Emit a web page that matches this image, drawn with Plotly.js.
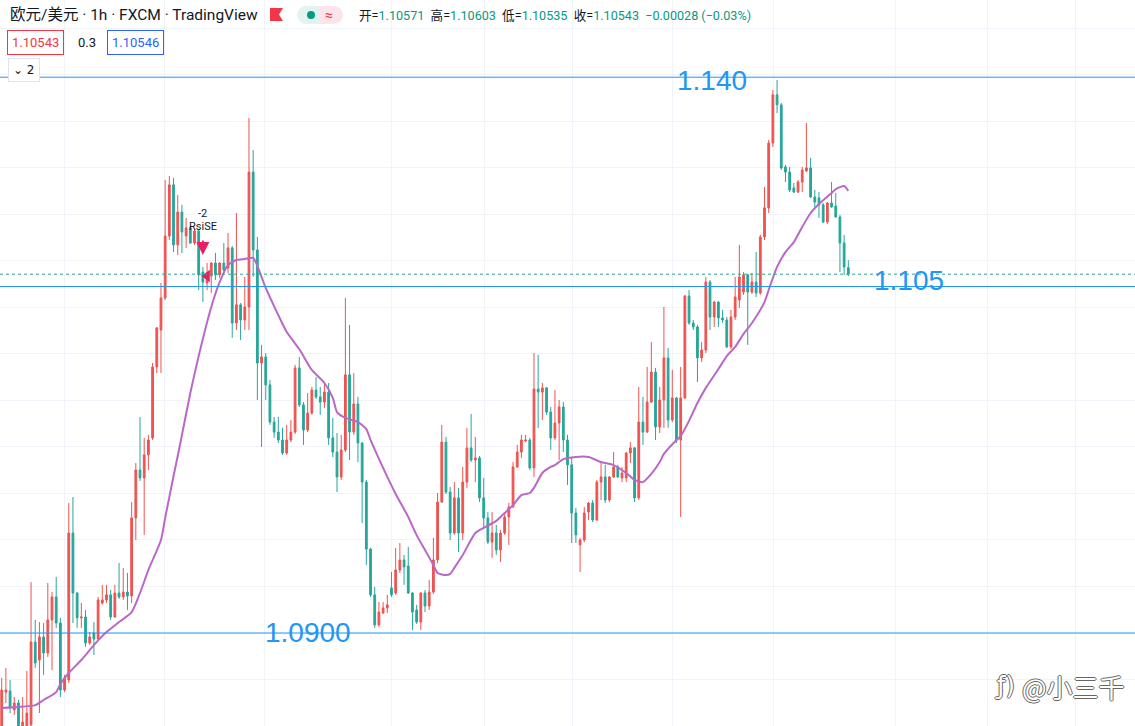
<!DOCTYPE html>
<html><head><meta charset="utf-8">
<script src="https://cdn.plot.ly/plotly-3.0.1.min.js"></script>
<style>html,body{margin:0;padding:0;background:#fff;overflow:hidden}#chart{width:1135px;height:726px}</style>
</head><body><div id="chart"></div>
<script>
// EUR/USD 1h candles (oldest -> newest), prices
const openP=[1.08549,1.08746,1.08751,1.08669,1.08699,1.08574,1.08592,1.08605,1.08961,1.08884,1.08983,1.08914,1.09056,1.09155,1.09043,1.08755,1.08798,1.09430,1.09172,1.09065,1.09069,1.08957,1.09000,1.08974,1.09129,1.09142,1.09164,1.09069,1.09172,1.09155,1.09176,1.09159,1.09495,1.09701,1.09667,1.09766,1.09839,1.10144,1.10303,1.10441,1.10707,1.10927,1.10669,1.10810,1.10707,1.10742,1.10677,1.10729,1.10552,1.10505,1.10535,1.10591,1.10540,1.10591,1.10570,1.10656,1.10333,1.10411,1.10346,1.10402,1.10982,1.10647,1.10161,1.10187,1.10067,1.09907,1.09864,1.09830,1.09774,1.09830,1.09864,1.10140,1.09981,1.09873,1.09946,1.10045,1.10015,1.09993,1.10036,1.09839,1.09778,1.09671,1.09787,1.10110,1.09864,1.09985,1.09817,1.09649,1.09361,1.09164,1.09035,1.09086,1.09108,1.09194,1.09172,1.09271,1.09314,1.09288,1.09172,1.09099,1.09047,1.09172,1.09116,1.09176,1.09314,1.09563,1.09821,1.09606,1.09430,1.09581,1.09430,1.09649,1.09796,1.09744,1.09753,1.09581,1.09495,1.09391,1.09430,1.09357,1.09430,1.09499,1.09542,1.09714,1.09778,1.09826,1.09830,1.09710,1.10049,1.10036,1.10054,1.09950,1.09839,1.09903,1.09972,1.09830,1.09723,1.09516,1.09379,1.09400,1.09520,1.09559,1.09486,1.09649,1.09671,1.09572,1.09671,1.09714,1.09667,1.09667,1.09774,1.09796,1.09581,1.09907,1.09864,1.09993,1.10122,1.09886,1.10002,1.10183,1.09916,1.10011,1.09830,1.10011,1.10449,1.10333,1.10316,1.10183,1.10217,1.10509,1.10359,1.10423,1.10355,1.10346,1.10230,1.10359,1.10432,1.10466,1.10540,1.10466,1.10509,1.10462,1.10703,1.10828,1.11107,1.11314,1.11271,1.11004,1.10982,1.10914,1.10896,1.10939,1.10987,1.11000,1.10875,1.10871,1.10841,1.10767,1.10849,1.10836,1.10789,1.10677,1.10571];
const highP=[1.08807,1.08850,1.08798,1.08725,1.08712,1.08725,1.08837,1.09219,1.09056,1.09047,1.09043,1.09215,1.09176,1.09241,1.09065,1.08820,1.09559,1.09585,1.09176,1.09129,1.09099,1.09004,1.09047,1.09155,1.09207,1.09207,1.09185,1.09207,1.09301,1.09280,1.09258,1.09563,1.09731,1.09929,1.09839,1.09852,1.10161,1.10316,1.10505,1.10948,1.10965,1.10957,1.10884,1.10841,1.10785,1.10750,1.10737,1.10737,1.10574,1.10591,1.10595,1.10634,1.10595,1.10677,1.10720,1.10664,1.10806,1.10419,1.10531,1.11215,1.11077,1.10703,1.10239,1.10204,1.10088,1.09929,1.09929,1.09882,1.09895,1.09916,1.10153,1.10187,1.09993,1.10032,1.10058,1.10101,1.10058,1.10075,1.10075,1.09925,1.09860,1.09852,1.10441,1.10325,1.10118,1.10015,1.09821,1.09658,1.09366,1.09198,1.09133,1.09133,1.09164,1.09262,1.09366,1.09387,1.09336,1.09370,1.09176,1.09121,1.09176,1.09185,1.09228,1.09409,1.09602,1.09895,1.09843,1.09628,1.09649,1.09624,1.09714,1.09882,1.09942,1.09843,1.09761,1.09667,1.09520,1.09520,1.09465,1.09443,1.09520,1.09559,1.09735,1.09809,1.09852,1.09852,1.09839,1.10204,1.10196,1.10075,1.10058,1.09972,1.10045,1.10002,1.09993,1.09852,1.09757,1.09538,1.09409,1.09542,1.09563,1.09572,1.09658,1.09735,1.09723,1.09675,1.09778,1.09723,1.09714,1.09778,1.09821,1.09800,1.10058,1.10015,1.10144,1.10251,1.10140,1.10058,1.10402,1.10226,1.10131,1.10015,1.10144,1.10454,1.10475,1.10346,1.10325,1.10251,1.10531,1.10518,1.10428,1.10428,1.10389,1.10359,1.10389,1.10531,1.10669,1.10552,1.10544,1.10548,1.10638,1.10712,1.10918,1.11120,1.11335,1.11378,1.11279,1.11013,1.11004,1.10935,1.10948,1.11004,1.11193,1.11043,1.10905,1.10896,1.10849,1.10853,1.10939,1.10892,1.10798,1.10712,1.10603];
const lowP=[1.08531,1.08699,1.08656,1.08648,1.08562,1.08549,1.08583,1.08592,1.08850,1.08656,1.08820,1.08897,1.08841,1.09022,1.08725,1.08746,1.08785,1.09043,1.09022,1.09022,1.08940,1.08949,1.08906,1.08966,1.09121,1.09129,1.09056,1.09065,1.09146,1.09142,1.09099,1.09129,1.09400,1.09654,1.09422,1.09701,1.09830,1.10118,1.10118,1.10432,1.10690,1.10638,1.10626,1.10634,1.10656,1.10673,1.10669,1.10475,1.10423,1.10475,1.10462,1.10518,1.10527,1.10548,1.10548,1.10269,1.10303,1.10260,1.10303,1.10303,1.10531,1.10002,1.09800,1.10002,1.09895,1.09839,1.09817,1.09766,1.09766,1.09821,1.09856,1.09972,1.09809,1.09864,1.09938,1.10006,1.09938,1.09968,1.09809,1.09757,1.09606,1.09658,1.09778,1.09744,1.09852,1.09735,1.09473,1.09293,1.09155,1.09022,1.09026,1.09082,1.09086,1.09155,1.09164,1.09258,1.09207,1.09168,1.09013,1.09039,1.09013,1.09090,1.09099,1.09168,1.09301,1.09559,1.09598,1.09400,1.09422,1.09348,1.09400,1.09624,1.09735,1.09649,1.09563,1.09456,1.09383,1.09323,1.09336,1.09305,1.09422,1.09379,1.09538,1.09710,1.09753,1.09821,1.09701,1.09671,1.09882,1.09916,1.09938,1.09787,1.09830,1.09744,1.09778,1.09637,1.09387,1.09387,1.09262,1.09391,1.09486,1.09477,1.09482,1.09572,1.09559,1.09563,1.09667,1.09667,1.09649,1.09649,1.09731,1.09563,1.09572,1.09809,1.09860,1.09989,1.09830,1.09860,1.09882,1.09882,1.09907,1.09817,1.09499,1.10006,1.10325,1.10303,1.10079,1.10165,1.10204,1.10303,1.10316,1.10316,1.10333,1.10226,1.10221,1.10346,1.10398,1.10454,1.10239,1.10458,1.10445,1.10454,1.10690,1.10806,1.11090,1.11236,1.10991,1.10939,1.10896,1.10892,1.10892,1.10896,1.10982,1.10871,1.10828,1.10785,1.10763,1.10759,1.10828,1.10785,1.10552,1.10540,1.10535];
const closeP=[1.08755,1.08755,1.08682,1.08699,1.08583,1.08617,1.08656,1.08961,1.08871,1.08983,1.08914,1.09056,1.09155,1.09043,1.08755,1.08807,1.09430,1.09172,1.09065,1.09069,1.08957,1.08983,1.08974,1.09142,1.09142,1.09164,1.09069,1.09172,1.09155,1.09176,1.09159,1.09495,1.09701,1.09667,1.09766,1.09830,1.10144,1.10312,1.10441,1.10707,1.10927,1.10669,1.10810,1.10724,1.10742,1.10677,1.10729,1.10540,1.10509,1.10548,1.10591,1.10540,1.10591,1.10561,1.10656,1.10333,1.10411,1.10346,1.10402,1.10982,1.10647,1.10161,1.10187,1.10067,1.09907,1.09864,1.09830,1.09774,1.09830,1.09864,1.10140,1.09981,1.09873,1.09946,1.10045,1.10015,1.09993,1.10036,1.09839,1.09778,1.09671,1.09787,1.10110,1.09864,1.09985,1.09817,1.09649,1.09361,1.09164,1.09035,1.09090,1.09108,1.09121,1.09164,1.09271,1.09314,1.09284,1.09172,1.09090,1.09047,1.09172,1.09116,1.09176,1.09314,1.09563,1.09821,1.09606,1.09430,1.09581,1.09430,1.09649,1.09796,1.09744,1.09753,1.09581,1.09495,1.09391,1.09430,1.09357,1.09430,1.09499,1.09542,1.09714,1.09778,1.09830,1.09830,1.09710,1.10049,1.10036,1.10054,1.09950,1.09839,1.09903,1.09972,1.09830,1.09723,1.09516,1.09422,1.09400,1.09516,1.09559,1.09486,1.09649,1.09671,1.09572,1.09671,1.09714,1.09671,1.09688,1.09774,1.09796,1.09581,1.09907,1.09864,1.09993,1.10122,1.09886,1.10002,1.10183,1.09916,1.10011,1.09830,1.10011,1.10449,1.10333,1.10316,1.10183,1.10217,1.10509,1.10359,1.10423,1.10355,1.10346,1.10230,1.10359,1.10445,1.10531,1.10540,1.10466,1.10509,1.10462,1.10703,1.10828,1.11107,1.11314,1.11271,1.11000,1.10982,1.10905,1.10896,1.10939,1.10991,1.11000,1.10875,1.10853,1.10841,1.10767,1.10849,1.10832,1.10789,1.10677,1.10574,1.10543];

// moving average (purple line) read at sample candles
const maIdx=[0,4,8,10,13,14,16,19,22,25,28,31,33,35,38,39,40,41,42,43,45,47,50,52,54,56,58,60,61,63,66,68,71,74,77,79,80,82,85,87,88,91,94,97,99,101,103,104,106,107,108,110,113,115,118,120,122,124,126,127,129,131,132,134,137,140,143,146,149,151,153,155,157,158,161,162,164,166,168,171,173,175,177,179,182,183,185,187,189,191,193,195,198,199,201,202];
const maVal=[1.08678,1.08682,1.08690,1.08712,1.08746,1.08781,1.08828,1.08884,1.08948,1.09004,1.09047,1.09090,1.09172,1.09271,1.09400,1.09495,1.09585,1.09675,1.09761,1.09851,1.10032,1.10191,1.10402,1.10509,1.10582,1.10604,1.10608,1.10613,1.10578,1.10484,1.10367,1.10294,1.10221,1.10131,1.10075,1.10011,1.09950,1.09925,1.09907,1.09877,1.09830,1.09710,1.09598,1.09499,1.09421,1.09357,1.09292,1.09258,1.09249,1.09254,1.09280,1.09335,1.09430,1.09452,1.09482,1.09516,1.09550,1.09593,1.09602,1.09624,1.09688,1.09714,1.09722,1.09748,1.09757,1.09757,1.09735,1.09722,1.09688,1.09658,1.09649,1.09684,1.09735,1.09770,1.09830,1.09847,1.09912,1.09989,1.10054,1.10135,1.10191,1.10230,1.10286,1.10333,1.10423,1.10475,1.10574,1.10638,1.10681,1.10746,1.10806,1.10845,1.10892,1.10909,1.10922,1.10901];

// hand-drawn levels and their labels
const levelPrice=[1.1139,1.1049,1.0900];
const levelText=['1.140','1.105','1.0900'];
// strategy signal
const signalIdx=[48];
const signalPrice=[1.10625];
const signalText=['-2','RsiSE'];
const exitIdx=[49];
const exitPrice=[1.10535];
// quote box
const bidP=1.10543, askP=1.10546, spread='0.3';

const W=1135,H=726;
const N=closeP.length;
const idx=closeP.map((_,i)=>i);
const px=x=>x/W, py=y=>1-y/H;
const UP='#ef5350', DN='#26a69a', BLUE='#2196f3';
const FONT="'Trebuchet MS', Roboto, 'Noto Sans CJK SC', sans-serif";

const traces=[
 {type:'candlestick',x:idx,open:openP,high:highP,low:lowP,close:closeP,
  increasing:{line:{color:UP,width:1},fillcolor:UP},
  decreasing:{line:{color:DN,width:1},fillcolor:DN},
  whiskerwidth:0,hoverinfo:'skip',showlegend:false},
 {type:'scatter',mode:'lines',x:maIdx,y:maVal,line:{color:'#ba68c8',width:2,shape:'spline',smoothing:0.6},hoverinfo:'skip',showlegend:false},
 {type:'scatter',mode:'markers',x:exitIdx,y:exitPrice,marker:{symbol:'triangle-left',size:11,color:'#e91e63'},hoverinfo:'skip',showlegend:false}
];

const shapes=levelPrice.map(p=>({type:'line',xref:'paper',x0:0,x1:1,yref:'y',y0:p,y1:p,line:{color:BLUE,width:1}}));
shapes.push({type:'line',xref:'paper',x0:0,x1:1,yref:'y',y0:closeP[N-1],y1:closeP[N-1],line:{color:DN,width:1,dash:'dot'}});
// red flag icon
const fl=[[270,8],[283,8],[279,14.5],[283,21],[270,21]];
shapes.push({type:'path',xref:'paper',yref:'paper',path:'M'+fl.map(p=>px(p[0])+','+py(p[1])).join(' L')+' Z',fillcolor:'#f23645',line:{width:0}});
// status pill
shapes.push({type:'circle',xref:'paper',yref:'paper',x0:px(297),x1:px(315),y0:py(24),y1:py(6),fillcolor:'#e3f3f1',line:{width:0}});
shapes.push({type:'rect',xref:'paper',yref:'paper',x0:px(306),x1:px(320),y0:py(24),y1:py(6),fillcolor:'#e3f3f1',line:{width:0}});
shapes.push({type:'rect',xref:'paper',yref:'paper',x0:px(320),x1:px(334),y0:py(24),y1:py(6),fillcolor:'#fde4ea',line:{width:0}});
shapes.push({type:'circle',xref:'paper',yref:'paper',x0:px(325),x1:px(343),y0:py(24),y1:py(6),fillcolor:'#fde4ea',line:{width:0}});
shapes.push({type:'circle',xref:'paper',yref:'paper',x0:px(307),x1:px(315),y0:py(19),y1:py(11),fillcolor:'#089981',line:{width:0}});

const last=N-1;
const chg=closeP[last]-openP[last];
const pct=chg/openP[last]*100;
const v=s=>'<span style="color:#089981">'+s+'</span>';
const ohlc='开='+v(openP[last].toFixed(5))+'  高='+v(highP[last].toFixed(5))+'  低='+v(lowP[last].toFixed(5))+'  收='+v(closeP[last].toFixed(5))+'  '+v(chg.toFixed(5).replace('-','−')+' ('+pct.toFixed(2).replace('-','−')+'%)');

const ann=[];
const labelPos=[[712,81],[909,280],[308,632]];
levelText.forEach((t,i)=>ann.push({xref:'paper',yref:'paper',x:px(labelPos[i][0]),y:py(labelPos[i][1]),text:t,showarrow:false,xanchor:'center',yanchor:'middle',font:{family:"'Liberation Sans', Arial, sans-serif",size:28,color:BLUE}}));
ann.push({xref:'paper',yref:'paper',x:px(8),y:py(15),text:'欧元/美元 · 1h · FXCM · TradingView',showarrow:false,xanchor:'left',yanchor:'middle',font:{family:FONT,size:15.5,color:'#131722'}});
ann.push({xref:'paper',yref:'paper',x:px(329),y:py(15),text:'≈',showarrow:false,xanchor:'center',yanchor:'middle',font:{family:FONT,size:14,color:'#f23645'}});
ann.push({xref:'paper',yref:'paper',x:px(357),y:py(15),text:ohlc,showarrow:false,xanchor:'left',yanchor:'middle',font:{family:FONT,size:12.6,color:'#131722'}});
ann.push({xref:'paper',yref:'paper',x:px(7),y:py(42),text:bidP.toFixed(5),showarrow:false,xanchor:'left',yanchor:'middle',bordercolor:'#f23645',borderwidth:1,borderpad:4,bgcolor:'#fff',font:{family:FONT,size:13,color:'#f23645'}});
ann.push({xref:'paper',yref:'paper',x:px(76),y:py(42),text:spread,showarrow:false,xanchor:'left',yanchor:'middle',font:{family:FONT,size:13,color:'#131722'}});
ann.push({xref:'paper',yref:'paper',x:px(107),y:py(42),text:askP.toFixed(5),showarrow:false,xanchor:'left',yanchor:'middle',bordercolor:'#2962ff',borderwidth:1,borderpad:4,bgcolor:'#fff',font:{family:FONT,size:13,color:'#2962ff'}});
ann.push({xref:'paper',yref:'paper',x:px(8),y:py(70.5),text:'⌄ 2',showarrow:false,xanchor:'left',yanchor:'middle',bordercolor:'#e0e3eb',borderwidth:1,borderpad:4,bgcolor:'#fff',font:{family:"'DejaVu Sans', sans-serif",size:12,color:'#131722'}});
// signal arrow + labels
ann.push({x:signalIdx[0],y:signalPrice[0],xref:'x',yref:'y',text:'',showarrow:true,arrowhead:2,arrowsize:1.3,arrowwidth:2,arrowcolor:'#e91e63',ax:0,ay:-16});
ann.push({x:signalIdx[0],y:1.10806,xref:'x',yref:'y',text:signalText[0],showarrow:false,font:{family:FONT,size:11,color:'#131722'}});
ann.push({x:signalIdx[0],y:1.10750,xref:'x',yref:'y',text:signalText[1],showarrow:false,font:{family:FONT,size:11,color:'#131722'}});
// watermark
ann.push({xref:'paper',yref:'paper',x:px(1005),y:py(686),text:'ƒ)',showarrow:false,xanchor:'center',yanchor:'middle',font:{family:"'DejaVu Sans', sans-serif",size:24,color:'#ffffff',shadow:'-1px 0 #666, 1px 0 #666, 0 -1px #666, 0 1px #666'}});
ann.push({xref:'paper',yref:'paper',x:px(1073),y:py(686),text:'@小三千',showarrow:false,xanchor:'center',yanchor:'middle',font:{family:"'Noto Sans CJK SC', sans-serif",size:26,color:'#ffffff',shadow:'-1px 0 #666, 1px 0 #666, 0 -1px #666, 0 1px #666'}});

const gridX=[14.87,38.96,62.82,92.89,115.08,136.08,159.94,184.04,213.15,235.1,256.1];
const layout={
 width:W,height:H,margin:{l:0,r:0,t:0,b:0},paper_bgcolor:'#fff',plot_bgcolor:'#fff',
 showlegend:false,boxgap:0.4,dragmode:false,
 xaxis:{range:[-0.406,270.4],rangeslider:{visible:false},showticklabels:false,ticks:'',tickmode:'array',tickvals:gridX,showgrid:true,gridcolor:'#f0f3fa',gridwidth:1,zeroline:false,showline:false,fixedrange:true},
 yaxis:{range:[1.086001,1.117219],showticklabels:false,ticks:'',tick0:1.09,dtick:0.002,showgrid:true,gridcolor:'#f0f3fa',gridwidth:1,zeroline:false,showline:false,fixedrange:true},
 shapes:shapes,annotations:ann
};
Plotly.newPlot('chart',traces,layout,{staticPlot:true,displayModeBar:false});
</script></body></html>
